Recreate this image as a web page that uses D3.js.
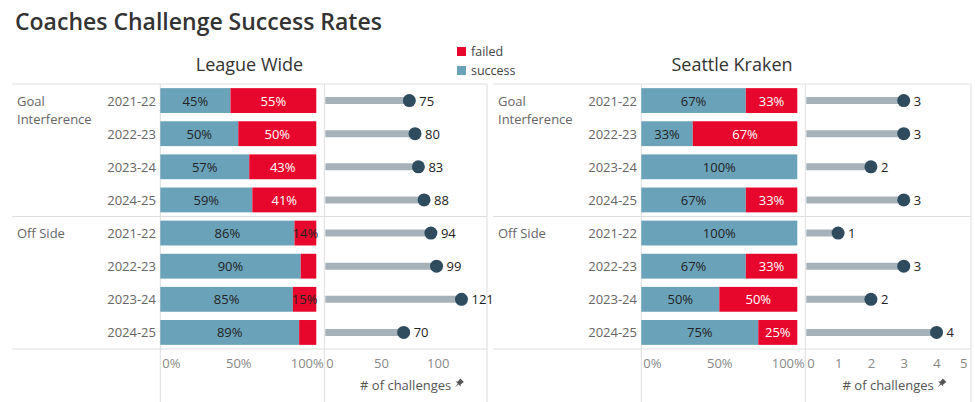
<!DOCTYPE html>
<html>
<head>
<meta charset="utf-8">
<script src="https://cdn.jsdelivr.net/npm/d3@7"></script>
<style>
  body { margin: 0; background: #fff; }
  text { font-family: "Open Sans", sans-serif; }
</style>
</head>
<body>
<div id="chart"></div>
<script>
// data
const challengeTypes = ['Goal Interference', 'Off Side'];
const seasons = ['2021-22', '2022-23', '2023-24', '2024-25'];
// success share (%) per type x season, failed = 100 - success
const leagueSuccess = [45, 50, 57, 59, 86, 90, 85, 89];
const leagueCount = [75, 80, 83, 88, 94, 99, 121, 70];
const krakenSuccess = [67, 33, 100, 67, 100, 67, 50, 75];
const krakenCount = [3, 3, 2, 3, 1, 3, 2, 4];
const pctTicks = [0, 50, 100];
const leagueTicks = [0, 50, 100];
const krakenTicks = [0, 1, 2, 3, 4, 5];

const W = 975, H = 402;
const colSuccess = '#6aa3b9', colFailed = '#e8072c';
const gridCol = '#dedede';

const svg = d3.select('#chart').append('svg')
  .attr('width', W).attr('height', H);

// title
svg.append('text')
  .attr('x', 15).attr('y', 30)
  .style('font-size', '23px').style('font-weight', 600)
  .style('fill', '#333')
  .text('Coaches Challenge Success Rates');

// legend
const legend = svg.append('g').attr('transform', 'translate(457,0)');
[['failed', colFailed, 47], ['success', colSuccess, 66]].forEach(([lab, c, y]) => {
  legend.append('rect').attr('x', 0).attr('y', y).attr('width', 9).attr('height', 9).attr('fill', c);
  legend.append('text').attr('x', 14).attr('y', y + 9)
    .style('font-size', '12.5px').style('fill', '#444').text(lab);
});

// one row per type x season
const rows = challengeTypes.flatMap(t => seasons.map(s => ({ type: t, season: s })));
rows.forEach(r => r.key = r.type + '|' + r.season);

const y = d3.scaleBand()
  .domain(rows.map(d => d.key))
  .range([84, 349])
  .paddingInner(0.25).paddingOuter(0.125);

const panels = [
  { title: 'League Wide', x0: 0, success: leagueSuccess, count: leagueCount, max: 143.5, ticks: leagueTicks, right: 487 },
  { title: 'Seattle Kraken', x0: 481, success: krakenSuccess, count: krakenCount, max: 5.05, ticks: krakenTicks, right: 490 }
];

panels.forEach(p => {
  const g = svg.append('g').attr('transform', `translate(${p.x0},0)`);
  const data = rows.map((r, i) => ({ ...r, success: p.success[i], failed: 100 - p.success[i], count: p.count[i] }));

  const frameL = 12, barL = 160.3, barR = 316.3, div = 324.3;
  const x = d3.scaleLinear().domain([0, 100]).range([barL, barR]);
  const xc = d3.scaleLinear().domain([0, p.max]).range([div, p.right]);

  g.append('text')
    .attr('x', (frameL + p.right) / 2).attr('y', 71)
    .attr('text-anchor', 'middle')
    .style('font-size', '18px').style('fill', '#333')
    .text(p.title);

  // grid lines
  const groupEdges = [84, y(rows[4].key) - y.step() * y.paddingInner() / 2, 349];
  g.selectAll('.hline').data(groupEdges).join('line')
    .attr('x1', frameL).attr('x2', p.right)
    .attr('y1', d => d).attr('y2', d => d)
    .attr('stroke', gridCol);
  g.selectAll('.vline').data([barL, div, p.right]).join('line')
    .attr('x1', d => d).attr('x2', d => d)
    .attr('y1', 84).attr('y2', H)
    .attr('stroke', gridCol);

  // row headers
  challengeTypes.forEach(t => {
    const first = y(t + '|' + seasons[0]) + y.bandwidth() / 2;
    const words = t === 'Goal Interference' ? ['Goal', 'Interference'] : [t];
    words.forEach((w, k) => {
      g.append('text').attr('x', 17).attr('y', first + 5 + k * 18)
        .style('font-size', '13px').style('fill', '#666').text(w);
    });
  });
  g.selectAll('.season').data(data).join('text')
    .attr('x', 156).attr('y', d => y(d.key) + y.bandwidth() / 2 + 5)
    .attr('text-anchor', 'end')
    .style('font-size', '13px').style('fill', '#666')
    .text(d => d.season);

  // stacked bars
  g.selectAll('.succ').data(data).join('rect')
    .attr('x', x(0)).attr('y', d => y(d.key))
    .attr('width', d => x(d.success) - x(0)).attr('height', y.bandwidth())
    .attr('fill', colSuccess);
  g.selectAll('.fail').data(data.filter(d => d.failed > 0)).join('rect')
    .attr('x', d => x(d.success)).attr('y', d => y(d.key))
    .attr('width', d => x(100) - x(d.success)).attr('height', y.bandwidth())
    .attr('fill', colFailed);

  g.selectAll('.succLab').data(data).join('text')
    .attr('x', d => x(d.success / 2)).attr('y', d => y(d.key) + y.bandwidth() / 2 + 5)
    .attr('text-anchor', 'middle')
    .style('font-size', '13px').style('fill', '#222')
    .text(d => d.success + '%');
  g.selectAll('.failLab').data(data.filter(d => d.failed >= 12)).join('text')
    .attr('x', d => x(d.success + d.failed / 2)).attr('y', d => y(d.key) + y.bandwidth() / 2 + 5)
    .attr('text-anchor', 'middle')
    .style('font-size', '13px').style('fill', d => d.failed < 20 ? '#222' : '#fff')
    .text(d => d.failed + '%');

  // lollipops
  const lolli = g.selectAll('.lolli').data(data).join('g');
  lolli.append('line')
    .attr('x1', xc(0) + 1).attr('x2', d => xc(d.count))
    .attr('y1', d => y(d.key) + y.bandwidth() / 2).attr('y2', d => y(d.key) + y.bandwidth() / 2)
    .attr('stroke', '#a6b2b9').attr('stroke-width', 7);
  lolli.append('circle')
    .attr('cx', d => xc(d.count)).attr('cy', d => y(d.key) + y.bandwidth() / 2)
    .attr('r', 6.5).attr('fill', '#2f4b5e');
  lolli.append('text')
    .attr('x', d => xc(d.count) + 10).attr('y', d => y(d.key) + y.bandwidth() / 2 + 5)
    .style('font-size', '13px').style('fill', '#222')
    .text(d => d.count);

  // axes
  const ax1 = g.append('g').attr('transform', 'translate(0,349)')
    .call(d3.axisBottom(x).tickValues(pctTicks).tickFormat(d => d + '%').tickSize(0));
  const ax2 = g.append('g').attr('transform', 'translate(0,349)')
    .call(d3.axisBottom(xc).tickValues(p.ticks).tickFormat(d3.format('d')).tickSize(0));
  [ax1, ax2].forEach(a => {
    a.select('.domain').remove();
    a.selectAll('.tick text').attr('y', 19).attr('dy', 0)
      .style('font-size', '13px').style('fill', '#888')
      .style('font-family', '"Open Sans", sans-serif');
  });
  ax1.selectAll('.tick text').each(function (d, i) {
    if (i === 0) d3.select(this).attr('text-anchor', 'start').attr('x', 1.5);
    if (d === 100) d3.select(this).attr('text-anchor', 'end').attr('x', div - 1 - x(100));
  });
  ax2.selectAll('.tick text').each(function (d, i, nodes) {
    if (i === 0) d3.select(this).attr('text-anchor', 'start').attr('x', 1.5);
    if (i === nodes.length - 1 && xc(d) + this.getComputedTextLength() / 2 > p.right - 3)
      d3.select(this).attr('text-anchor', 'end').attr('x', p.right - 4 - xc(d));
  });

  const cx = (div + p.right) / 2;
  const lab = g.append('text')
    .attr('x', cx).attr('y', 390).attr('text-anchor', 'middle')
    .style('font-size', '13px').style('fill', '#555')
    .text('# of challenges');
  const lw = lab.node().getComputedTextLength();
  // small pin marker after the axis title
  g.append('path')
    .attr('transform', `translate(${cx + lw / 2 + 8},383) rotate(45)`)
    .attr('d', 'M-2.5,-4 L2.5,-4 L2,0 L3.5,1.5 L-3.5,1.5 L-2,0 Z M-0.6,1.5 L0.6,1.5 L0,6 Z')
    .attr('fill', '#555');
});
</script>
</body>
</html>
